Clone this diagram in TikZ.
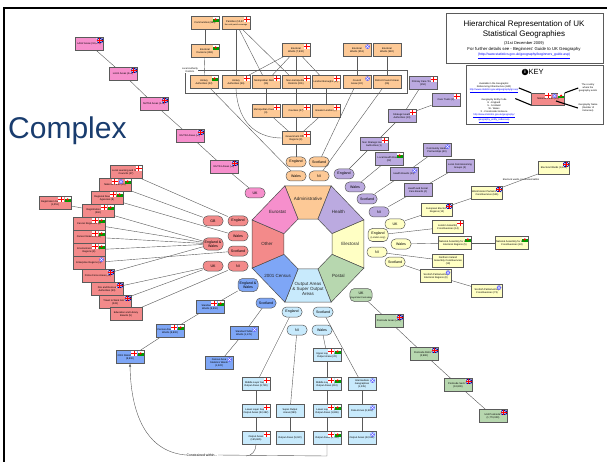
\documentclass[tikz,border=0pt]{standalone}
\usepackage{fontspec}
\setmainfont{Liberation Sans}
\usetikzlibrary{shapes,arrows,arrows.meta,positioning,calc}

\definecolor{admfill}{RGB}{253,201,150}
\definecolor{hlthfill}{RGB}{187,170,224}
\definecolor{elecfill}{RGB}{255,255,196}
\definecolor{postfill}{RGB}{183,215,175}
\definecolor{oafill}{RGB}{200,234,252}
\definecolor{censfill}{RGB}{126,166,246}
\definecolor{othfill}{RGB}{243,138,138}
\definecolor{eurofill}{RGB}{246,143,204}
\definecolor{slideblue}{RGB}{25,60,110}
\definecolor{edgegray}{RGB}{90,90,90}

\tikzset{
  geo/.style={draw=edgegray, line width=0.7pt, minimum width=28pt, minimum height=12.5pt, inner sep=0.3pt, align=center, font=\fontsize{2.5}{2.9}\selectfont},
  adm/.style={geo, fill=admfill},
  hlth/.style={geo, fill=hlthfill},
  elec/.style={geo, fill=elecfill, minimum width=31pt},
  post/.style={geo, fill=postfill},
  oa/.style={geo, fill=oafill},
  cens/.style={geo, fill=censfill},
  oth/.style={geo, fill=othfill, minimum width=32pt},
  euro/.style={geo, fill=eurofill},
  ctry/.style={draw=edgegray, line width=0.5pt, rounded corners=4.5pt, minimum width=20pt, minimum height=10pt, inner sep=0.5pt, align=center, font=\fontsize{3.6}{4}\selectfont},
  link/.style={draw=gray!70!black, line width=0.4pt},
  segtext/.style={align=center, font=\fontsize{4.5}{5}\selectfont, text=black!85},
  keyline/.style={line width=1.1pt},
  keytext/.style={align=center, font=\fontsize{2.4}{2.8}\selectfont, inner sep=0.5pt},
  pics/flagE/.style={code={
    \fill[white] (-6,0) rectangle (0,4.5);
    \draw[red, line width=0.5pt] (-3,0) -- (-3,4.5) (-6,2.25) -- (0,2.25);}},
  pics/flagW/.style={code={
    \fill[white] (-6,0) rectangle (0,2.25);
    \fill[green!60!black] (-6,2.25) rectangle (0,4.5);
    \fill[red] (-3,2.25) circle (1.2);}},
  pics/flagS/.style={code={
    \fill[blue!60] (-3,2.4) circle (2.3);
    \draw[white, line width=0.4pt] (-4.4,1) -- (-1.6,3.8) (-4.4,3.8) -- (-1.6,1);}},
  pics/flagUK/.style={code={
    \fill[blue!60!black] (-6,0) rectangle (0,4.5);
    \draw[white, line width=0.6pt] (-6,0) -- (0,4.5) (-6,4.5) -- (0,0);
    \draw[white, line width=1.1pt] (-3,0) -- (-3,4.5) (-6,2.25) -- (0,2.25);
    \draw[red, line width=0.5pt] (-3,0) -- (-3,4.5) (-6,2.25) -- (0,2.25);}},
}

\begin{document}
\begin{tikzpicture}[x=1pt, y=-1pt]
\useasboundingbox (0,0) rectangle (607,462);
\fill[white] (0,0) rectangle (607,462);

% slide frame and heading
\draw[line width=2pt] (3.5,462) -- (3.5,8.5) -- (607,8.5);
\node[anchor=base west, inner sep=0, text=slideblue, font=\fontsize{30}{30}\selectfont] (heading) at (8,139) {Complex};

% centre octagon
\begin{scope}[shift={(308,244)}, yscale=1.04]
  \foreach \a/\c in {-90/admfill, -45/hlthfill, 0/elecfill, 45/postfill, 90/oafill, 135/censfill, 180/othfill, 225/eurofill}
    \filldraw[fill=\c, draw=black!70, line width=0.5pt] (\a-22.5:60.5) -- (\a+22.5:60.5) -- (\a+22.5:26) -- (\a-22.5:26) -- cycle;
  \node[segtext] (octAdm) at (-90:43) {Administrative};
  \node[segtext] (octHlth) at (-45:43) {Health};
  \node[segtext] (octElec) at (0:42) {Electoral};
  \node[segtext] (octPost) at (45:43) {Postal};
  \node[segtext] (octOA) at (90:43) {Output Areas\\ \& Super Output\\ Areas};
  \node[segtext] (octCens) at (135:43) {2001 Census};
  \node[segtext] (octOth) at (180:41) {Other};
  \node[segtext] (octEuro) at (225:43) {Eurostat};
\end{scope}

% Eurostat
\node[euro] (lau2) at (89,44) {LAU2 Areas (10,679)};
\node[euro] (lau1) at (123,74) {LAU1 Areas (443)};
\node[euro] (nuts3) at (154,104) {NUTS3 Areas (133)};
\node[euro] (nuts2) at (190,136) {NUTS2 Areas (37)};
\node[euro] (nuts1) at (224,167) {NUTS1 Areas (12)};
\node[ctry, fill=eurofill] (euUK) at (255,193) {UK};

% Administrative
\draw[edgegray, line width=0.5pt] (185,70) rectangle (407,93);
\node[keytext, fill=white] (ladlabel) at (190,70) {Local Authority\\ Districts};
\node[adm] (comm) at (205,23) {Communities (869)};
\node[adm] (par) at (236,23) {Parishes (10,473)\\ {\fontsize{2}{2.3}\selectfont Non-civil parish coverage}};
\node[adm] (edw) at (205,51) {Electoral\\ Divisions (881)};
\node[adm] (ewe) at (296,50) {Electoral\\ Wards (7,932)};
\node[adm] (ews) at (357,50) {Electoral\\ Wards (353)};
\node[adm] (ewn) at (387,50) {Electoral\\ Wards (582)};
\node[adm] (uaw) at (204,82) {Unitary\\ Authorities (22)};
\node[adm] (uae) at (236,82) {Unitary\\ Authorities (56)};
\node[adm] (md) at (266,82) {Metropolitan Districts\\ (36)};
\node[adm] (nmd) at (296,82) {Non-metropolitan\\ Districts (201)};
\node[adm] (lb) at (326,82) {London Boroughs (33)};
\node[adm] (ca) at (357,82) {Council\\ Areas (32)};
\node[adm] (dca) at (387,82) {District Council Areas\\ (26)};
\node[adm] (mc) at (266,111) {Metropolitan Counties\\ (6)};
\node[adm] (cty) at (296,111) {Counties (27)};
\node[adm] (gl) at (326,111) {Greater London (1)};
\node[adm] (gor) at (296,138) {Government Office\\ Regions (9)};
\node[ctry, fill=admfill] (admE) at (296,162) {England};
\node[ctry, fill=admfill] (admS) at (319,162) {Scotland};
\node[ctry, fill=admfill] (admW) at (296,176) {Wales};
\node[ctry, fill=admfill] (admN) at (319,176) {NI};

% Health
\node[hlth] (pct) at (423,83) {Primary Care Trusts\\ (152)};
\node[hlth] (ct) at (446,100) {Care Trusts (9)};
\node[hlth] (sha) at (402,116) {Strategic Health\\ Authorities (10)};
\node[hlth] (nsha) at (374,144) {Non Strategic Health\\ Authorities (1)};
\node[hlth] (chp) at (437,150) {Community Health\\ Partnerships (40)};
\node[hlth] (lhb) at (389,159) {Local Health Boards\\ (22)};
\node[hlth] (lcg) at (460,166) {Local Commissioning\\ Groups (4)};
\node[hlth] (hb) at (404,174) {Health Boards (14)};
\node[hlth] (hscb) at (418,190) {Health and Social\\ Care Boards (4)};
\node[ctry, fill=hlthfill] (hE) at (344,174) {England};
\node[ctry, fill=hlthfill] (hW) at (355,187) {Wales};
\node[ctry, fill=hlthfill] (hS) at (367,199) {Scotland};
\node[ctry, fill=hlthfill] (hN) at (379,212) {NI};

% Electoral
\node[elec] (ew) at (554,168) {Electoral Wards (9,434)};
\node[elec] (wpc) at (487,193) {Westminster Parliamentary\\ Constituencies (646)};
\node[elec] (eer) at (437,210) {European Electoral\\ Regions (12)};
\node[elec] (lac) at (448,227) {London Assembly\\ Constituencies (14)};
\node[elec] (nawer) at (455,243) {National Assembly for Wales\\ Electoral Regions (5)};
\node[elec] (nawc) at (512,243) {National Assembly for Wales\\ Constituencies (40)};
\node[elec] (niac) at (448,261) {Northern Ireland\\ Assembly Constituencies\\ (18)};
\node[elec] (sper) at (436,276) {Scottish Parliamentary\\ Electoral Regions (8)};
\node[elec] (spc) at (487,291) {Scottish Parliamentary\\ Constituencies (73)};
\node[keytext] (ewlabel) at (521,180) {Electoral wards constrained within};
\node[ctry, fill=elecfill] (eUK) at (395,224) {UK};
\node[ctry, fill=elecfill, minimum height=13pt] (eEng) at (378,235) {England\\ {\fontsize{2.4}{2.6}\selectfont (London only)}};
\node[ctry, fill=elecfill] (eW) at (401,244) {Wales};
\node[ctry, fill=elecfill] (eN) at (377,252) {NI};
\node[ctry, fill=elecfill] (eS) at (395,262) {Scotland};

% Postal
\node[ctry, fill=postfill, minimum width=22pt, minimum height=13pt] (pUK) at (361,295) {UK\\ {\fontsize{2.2}{2.5}\selectfont Royal Mail Postcodes}};
\node[post] (pa) at (389,321) {Postcode Areas (124)};
\node[post] (pd) at (424,354) {Postcode Districts\\ (2,980)};
\node[post] (ps) at (458,385) {Postcode Sectors\\ (10,800)};
\node[post] (up) at (493,416) {Unit Postcodes\\ (1,770,000)};

% Output Areas and Super Output Areas
\node[ctry, fill=oafill] (oaEo) at (292,312) {England};
\node[ctry, fill=oafill] (oaSo) at (323,312) {Scotland};
\node[ctry, fill=oafill] (oaNo) at (297,330) {NI};
\node[ctry, fill=oafill] (oaWo) at (322,330) {Wales};
\node[oa] (oaE1) at (256,384) {Middle Layer Super\\ Output Areas (6,780)};
\node[oa] (oaE2) at (256,411) {Lower Layer Super\\ Output Areas (32,482)};
\node[oa] (oaE3) at (256,438) {Output Areas\\ (165,665)};
\node[oa] (oaN1) at (290,411) {Super Output\\ Areas (890)};
\node[oa] (oaN2) at (290,438) {Output Areas (5,022)};
\node[oa] (oaW0) at (327,355) {Upper Layer Super\\ Output Areas (22)};
\node[oa] (oaW1) at (327,384) {Middle Layer Super\\ Output Areas (413)};
\node[oa] (oaW2) at (327,411) {Lower Layer Super\\ Output Areas (1,896)};
\node[oa] (oaW3) at (327,438) {Output Areas (9,769)};
\node[oa] (oaS1) at (362,384) {Intermediate\\ Geographies\\ (1,235)};
\node[oa] (oaS2) at (362,411) {Data Zones (6,505)};
\node[oa] (oaS3) at (362,438) {Output Areas (42,604)};

% 2001 Census
\node[ctry, fill=censfill, minimum height=13pt] (cEW) at (248,285) {England \&\\ Wales};
\node[ctry, fill=censfill] (cS) at (266,303) {Scotland};
\node[cens] (stw) at (210,307) {Standard Table\\ Wards (8,850)};
\node[cens] (casw) at (170,331) {Census Area Statistics\\ Wards (8,800)};
\node[cens] (sw) at (130,357) {2001 Statistical Wards\\ (8,800)};
\node[cens] (stws) at (244,333) {Standard Table\\ Wards (1,176)};
\node[cens] (casws) at (219,363) {Census Area\\ Statistics Wards\\ (1,222)};

% Other
\node[oth] (llsc) at (126,172) {Local Learning and Skills\\ Councils (47)};
\node[oth] (np) at (115,185) {National Parks (15)};
\node[oth] (rda) at (107,198) {Regional Development\\ Agencies (9)};
\node[oth] (rsd) at (55,203) {Registration Sub-districts\\ (1,051)};
\node[oth] (rd) at (98,211) {Registration Districts\\ (360)};
\node[oth] (cr) at (89,224) {Cancer Registries (9)};
\node[oth] (cn) at (89,237) {Cancer Networks (30)};
\node[oth] (ea) at (89,250) {Environment Agency\\ Regions (8)};
\node[oth] (er) at (89,263) {Enterprise Regions (4)};
\node[oth] (pfa) at (98,276) {Police Force Areas (52)};
\node[oth] (fra) at (107,289) {Fire and Rescue\\ Authorities (50)};
\node[oth] (ttwa) at (115,302) {Travel to Work Areas\\ (243)};
\node[oth] (elb) at (126,314) {Education and Library\\ Boards (5)};
\node[ctry, fill=othfill] (oGB) at (213,221) {GB};
\node[ctry, fill=othfill] (oE) at (238,221) {England};
\node[ctry, fill=othfill] (oW) at (238,236) {Wales};
\node[ctry, fill=othfill, minimum height=12pt] (oEW) at (213,244) {England \&\\ Wales};
\node[ctry, fill=othfill] (oS) at (238,251) {Scotland};
\node[ctry, fill=othfill] (oUK) at (213,266) {UK};
\node[ctry, fill=othfill] (oN) at (238,266) {NI};

% connectors
\foreach \a/\b in {lau2/lau1, lau1/nuts3, nuts3/nuts2, nuts2/nuts1, nuts1/euUK,
    comm/edw, edw/uaw, par/uae, par/md, par/nmd, ewe/uae, ewe/md, ewe/nmd, ewe/lb,
    ews/ca, ewn/dca, md/mc, nmd/cty, lb/gl, mc/gor, cty/gor, gl/gor,
    gor/admE, uaw/admW, ca/admS, dca/admN,
    pct/sha, ct/sha, sha/nsha, nsha/hE, lhb/hW, chp/hb, hb/hS, lcg/hscb, hscb/hN,
    ew/wpc, wpc/eer, eer/eUK, lac/eEng, nawer/eW, nawer/nawc, niac/eN, sper/eS, sper/spc,
    pUK/pa, pa/pd, pd/ps, ps/up,
    oaEo/oaE1, oaE1/oaE2, oaE2/oaE3, oaNo/oaN1, oaN1/oaN2, oaWo/oaW0, oaW0/oaW1,
    oaW1/oaW2, oaW2/oaW3, oaSo/oaS1, oaS1/oaS2, oaS2/oaS3,
    cEW/stw, stw/casw, casw/sw, cS/stws, stws/casws,
    llsc/oE, np/oGB, rda/oW, rsd/rd, rd/oEW, cr/oEW, cn/oEW, ea/oEW, er/oS,
    pfa/oEW, fra/oUK, ttwa/oUK, elb/oN}
  \draw[link] (\a) -- (\b);
\draw[link] (uae.south) .. controls (238,128) and (262,138) .. (gor.west);

% constrained within
\node[font=\fontsize{3.4}{4}\selectfont, inner sep=0.5pt] (cw) at (202,455) {Constrained within...};
\coordinate (cwjoin) at (327,456);
\coordinate (cwbend) at (246,456);
\draw[link] (oaW3) -- (cwjoin) -- (cw.east);
\draw[link] (oaE3.south) to[out=-90, in=0] (cwbend);
\draw[link, -{Latex[length=3pt, width=2.4pt]}] (cw.west) .. controls (150,452) and (131,420) .. (sw.south);

% flags
\foreach \n in {par, ewe, uae, md, nmd, lb, mc, cty, gl, gor, pct, ct, sha, nsha, lac, oaE1, oaE2, oaE3, llsc}
  \pic at ([shift={(-0.8,0.8)}]\n.north east) {flagE};
\foreach \n in {comm, edw, uaw, lhb, nawer, nawc}
  \pic at ([shift={(-0.8,0.8)}]\n.north east) {flagW};
\foreach \n in {ews, ca, chp, hb, sper, spc, oaS1, oaS2, oaS3, stws, casws, er}
  \pic at ([shift={(-0.8,0.8)}]\n.north east) {flagS};
\foreach \n in {lau2, lau1, nuts3, nuts2, nuts1, ew, wpc, eer, pa, pd, ps, up, pfa, fra, ttwa}
  \pic at ([shift={(-0.8,0.8)}]\n.north east) {flagUK};
\foreach \n in {oaW0, oaW1, oaW2, oaW3, sw, casw, stw, rsd, rd, cr, cn, ea, rda} {
  \pic at ([shift={(-0.8,0.8)}]\n.north east) {flagW};
  \pic at ([shift={(-7.3,0.8)}]\n.north east) {flagE};
}
\pic at ([shift={(-0.8,0.8)}]np.north east) {flagW};
\pic at ([shift={(-7.3,0.8)}]np.north east) {flagS};
\pic at ([shift={(-13.8,0.8)}]np.north east) {flagE};

% title box
\draw[edgegray, line width=0.6pt] (446,13) rectangle (603,63);
\node[font=\fontsize{8}{9}\selectfont] (title) at (524,24) {Hierarchical Representation of UK};
\node[font=\fontsize{8}{9}\selectfont] (subtitle) at (524,34) {Statistical Geographies};
\node[font=\fontsize{4}{5}\selectfont] (tdate) at (524,43) {(31st December 2009)};
\node[font=\fontsize{4.3}{5}\selectfont] (tmore) at (524,49.5) {For further details see - Beginners' Guide to UK Geography};
\node[font=\fontsize{3.4}{4}\selectfont, text=blue] (tlink) at (524,56) {\underline{(http://www.statistics.gov.uk/geography/beginners\_guide.asp)}};

% key box
\draw[edgegray, line width=0.6pt] (466,65) rectangle (603,124);
\node[circle, fill=black, text=white, inner sep=0pt, minimum size=6.5pt, font=\fontsize{5}{5}\bfseries\selectfont] (keyicon) at (525,72) {i};
\node[anchor=west, inner sep=0, font=\fontsize{7.5}{8}\selectfont] (keytitle) at (528.5,72) {KEY};
\node[oth, minimum width=33pt, minimum height=12pt] (keybox) at (548,99) {National Parks (15)};
\pic at ([shift={(-0.8,0.8)}]keybox.north east) {flagW};
\pic at ([shift={(-7.3,0.8)}]keybox.north east) {flagS};
\pic at ([shift={(-13.8,0.8)}]keybox.north east) {flagE};
\node[keytext] (keygri) at (494,88) {Available in the Geographic\\ Referencing Infrastructure (GRI)\\ {\color{blue}\underline{http://www.statistics.gov.uk/geography/gri.asp}}};
\node[keytext] (keycode) at (494,111) {Geography Entity Code\\ E - England\\ S - Scotland\\ W - Wales\\ X - Crossborder Instance\\ {\color{blue}\underline{http://www.statistics.gov.uk/geography/}}\\ {\color{blue}\underline{geography\_entity\_codes.asp}}};
\node[keytext] (keyctry) at (588,88) {The country\\ where the\\ geography exists};
\node[keytext] (keyname) at (588,108) {Geography Name\\ (Number of\\ Instances)};
\draw[keyline] (keygri.east) -- (keybox.160);
\draw[keyline] (keycode.north east) -- (keybox.200);
\draw[keyline] (keyctry.west) -- (keybox.20);
\draw[keyline] (keyname.west) -- ([shift={(8,2)}]keybox.center);
\end{tikzpicture}
\end{document}
